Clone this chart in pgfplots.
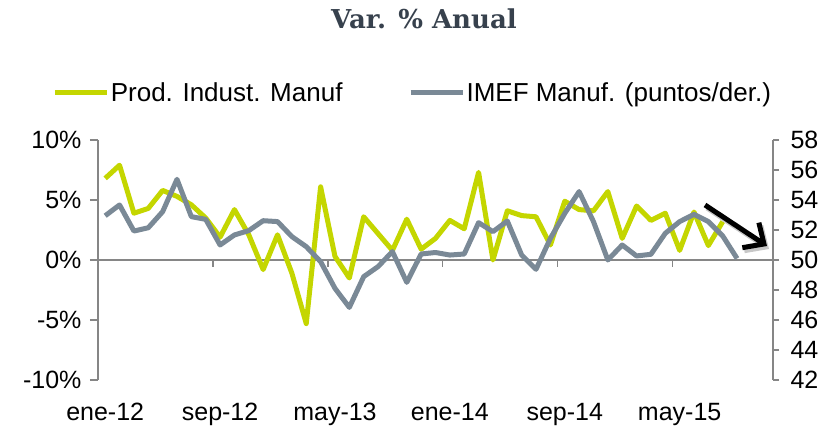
\documentclass[border=0pt]{standalone}
\usepackage{pgfplots}
\pgfplotsset{compat=1.18}
\usepackage{pgfplotstable}
\usepackage{fontspec}
\setmainfont{Liberation Sans}
\newfontfamily\titlefont{DejaVu Serif}
\usetikzlibrary{arrows.meta}
\definecolor{lime}{RGB}{196,214,0}
\definecolor{slate}{RGB}{122,137,150}
\definecolor{axgray}{RGB}{134,134,134}
\definecolor{titlec}{RGB}{55,65,77}

\pgfplotstableread{
i v
0 6.8
1 7.9
2 3.9
3 4.3
4 5.8
5 5.3
6 4.6
7 3.5
8 1.9
9 4.2
10 2.1
11 -0.8
12 2.1
13 -1.1
14 -5.3
15 6.1
16 0.3
17 -1.5
18 3.6
19 2.2
20 0.8
21 3.4
22 0.9
23 1.8
24 3.3
25 2.6
26 7.3
27 0.0
28 4.1
29 3.7
30 3.6
31 1.25
32 4.9
33 4.2
34 4.1
35 5.7
36 1.8
37 4.5
38 3.3
39 3.9
40 0.8
41 4.0
42 1.2
43 3.2
}\prod

\pgfplotstableread{
i v
0 52.95
1 53.67
2 51.93
3 52.15
4 53.22
5 55.38
6 52.89
7 52.71
8 51.0
9 51.67
10 51.96
11 52.62
12 52.56
13 51.56
14 50.89
15 49.89
16 48.11
17 46.84
18 48.89
19 49.56
20 50.56
21 48.51
22 50.4
23 50.5
24 50.33
25 50.4
26 52.49
27 51.89
28 52.6
29 50.33
30 49.38
31 51.44
32 53.11
33 54.56
34 52.56
35 50.0
36 51.0
37 50.27
38 50.38
39 51.78
40 52.56
41 53.04
42 52.56
43 51.6
44 50.1
}\imef

\begin{document}
\begin{tikzpicture}
\path[use as bounding box] (0,0) rectangle (828bp,429bp);
\pgfplotsset{base/.style={at={(98bp,49bp)}, anchor=south west, scale only axis,
  width=675bp, height=240bp, xmin=-0.5, xmax=46.5, clip=false,
  tick label style={font=\fontsize{25bp}{30bp}\selectfont},
  /pgf/number format/assume math mode=true}}
% zero line with tick marks
\begin{axis}[base, ymin=-10, ymax=10, axis x line=middle, axis y line=none,
  x axis line style={-, axgray, line width=1.5bp},
  xtick={7.5,15.5,23.5,31.5,39.5}, xticklabels={}, ytick=\empty,
  tick align=outside, major tick length=7bp, tick style={axgray, line width=1.5bp}]
\end{axis}
% left axis
\begin{axis}[base, ymin=-10, ymax=10,
  axis y line*=left, axis x line*=bottom, x axis line style={draw=none},
  xtick={0,8,16,24,32,40}, xticklabels={ene-12,sep-12,may-13,ene-14,sep-14,may-15},
  x tick style={draw=none},
  ytick={-10,-5,0,5,10}, yticklabels={-10\%,-5\%,0\%,5\%,10\%},
  y axis line style={-, axgray, line width=1.5bp},
  y tick style={axgray, line width=1.5bp},
  tick align=outside, major tick length=8bp,
  xticklabel style={yshift=-12bp},
  yticklabel style={xshift=-5bp},
  legend columns=2, legend cell align=left,
  legend style={draw=none, fill=none, at={(-0.068,1.196)}, anchor=west,
    font=\fontsize{26bp}{30bp}\selectfont, inner sep=0pt,
    nodes={inner sep=1.5bp},
    /tikz/every even column/.append style={column sep=64bp}},
  legend image code/.code={\draw[#1] (0bp,0bp) -- (52bp,0bp);}]
\addplot[lime, line width=5bp, line join=round] table[x=i, y=v] {\prod};
\addlegendentry{Prod. Indust. Manuf}
\addlegendimage{slate, line width=5bp}
\addlegendentry{IMEF Manuf. (puntos/der.)}
\end{axis}
% right axis
\begin{axis}[base, ymin=42, ymax=58,
  axis y line*=right, axis x line=none,
  ytick={42,44,...,58},
  y axis line style={-, axgray, line width=1.5bp},
  y tick style={axgray, line width=1.5bp},
  tick align=outside, major tick length=6bp,
  yticklabel style={xshift=8bp}]
\addplot[slate, line width=5bp, line join=round] table[x=i, y=v] {\imef};
\end{axis}
% arrow
\draw[black!22, line width=5bp, -{Straight Barb[length=16bp, width=30bp]}] (707bp,221bp) -- (769bp,180bp);
\draw[black, line width=5bp, -{Straight Barb[length=16bp, width=30bp]}] (705bp,224bp) -- (767bp,183bp);
\node[font=\titlefont\bfseries\fontsize{26bp}{30bp}\selectfont, text=titlec, anchor=base] at (424bp,400bp) {Var. \% Anual};
\end{tikzpicture}
\end{document}
